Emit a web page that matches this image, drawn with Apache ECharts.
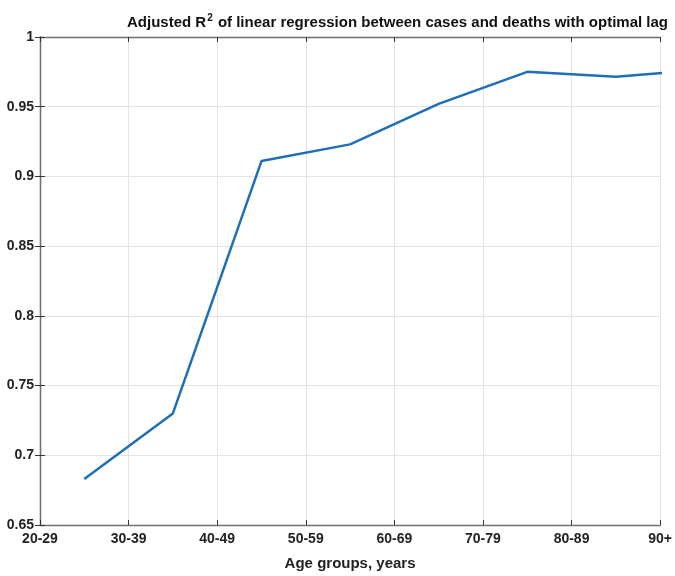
<!DOCTYPE html>
<html>
<head>
<meta charset="utf-8">
<script src="https://cdn.jsdelivr.net/npm/echarts@6/dist/echarts.min.js"></script>
<style>
  html, body { margin: 0; padding: 0; background: #fff; }
  #chart { width: 675px; height: 576px; }
</style>
</head>
<body>
<div id="chart"></div>
<script>
// Age groups shown as tick labels on the x axis
const ageGroups = ['20-29', '30-39', '40-49', '50-59', '60-69', '70-79', '80-89', '90+'];
// Adjusted R^2 per age group (plotted at the middle of each group's interval)
const adjR2 = [0.683, 0.730, 0.911, 0.923, 0.952, 0.975, 0.9715, 0.9765];
// y-axis range and step
const yMin = 0.65, yMax = 1, yStep = 0.05;

const points = adjR2.map((v, i) => [i + 0.5, v]);

const font = '"Liberation Sans Narrow", "Arial Narrow", "Liberation Sans", Arial, sans-serif';
const axisColor = '#707070';
const gridColor = '#e4e4e4';

const chart = echarts.init(document.getElementById('chart'), null, { renderer: 'canvas' });

const xBase = {
  type: 'value', min: 0, max: ageGroups.length - 1, interval: 1,
  axisLine: { show: true, lineStyle: { color: axisColor, width: 1.3 } },
  axisTick: { show: true, inside: true, length: 5, lineStyle: { color: '#333', width: 1 } }
};
const yBase = {
  type: 'value', min: yMin, max: yMax, interval: yStep,
  axisLine: { show: true, lineStyle: { color: axisColor, width: 1.3 } },
  axisTick: { show: true, inside: true, length: 5, lineStyle: { color: '#333', width: 1 } }
};

chart.setOption({
  animation: false,
  backgroundColor: '#fff',
  title: {
    text: 'Adjusted R{sup|2} of linear regression between cases and deaths with optimal lag',
    right: 2, top: 8,
    textStyle: {
      fontFamily: font, fontSize: 15, fontWeight: 'bold', color: '#111',
      rich: { sup: { fontFamily: font, fontSize: 10, fontWeight: 'bold', color: '#111', verticalAlign: 'top', padding: [0, 1, 9, 1] } }
    }
  },
  grid: { left: 40, right: 10, top: 37, bottom: 50, containLabel: false },
  xAxis: [
    Object.assign({}, xBase, {
      position: 'bottom',
      name: 'Age groups, years', nameLocation: 'middle', nameGap: 31,
      nameTextStyle: { fontFamily: font, fontSize: 15, fontWeight: 'bold', color: '#222' },
      axisLabel: {
        fontFamily: font, fontSize: 14, fontWeight: 'bold', color: '#222', margin: 7,
        formatter: v => ageGroups[Math.round(v)] || ''
      },
      splitLine: { show: true, lineStyle: { color: gridColor, width: 1 } }
    }),
    Object.assign({}, xBase, {
      position: 'top', axisLabel: { show: false }, splitLine: { show: false }
    })
  ],
  yAxis: [
    Object.assign({}, yBase, {
      position: 'left',
      axisLabel: {
        fontFamily: font, fontSize: 14, fontWeight: 'bold', color: '#222', margin: 6,
        formatter: v => String(parseFloat(v.toFixed(2)))
      },
      splitLine: { show: true, lineStyle: { color: gridColor, width: 1 } }
    }),
    Object.assign({}, yBase, {
      position: 'right', axisLabel: { show: false }, splitLine: { show: false }
    })
  ],
  series: [{
    type: 'line',
    data: points,
    xAxisIndex: 0, yAxisIndex: 0,
    clip: true,
    showSymbol: false,
    lineStyle: { color: '#1f6fb8', width: 2.5 },
    itemStyle: { color: '#1f6fb8' }
  }]
});
</script>
</body>
</html>
